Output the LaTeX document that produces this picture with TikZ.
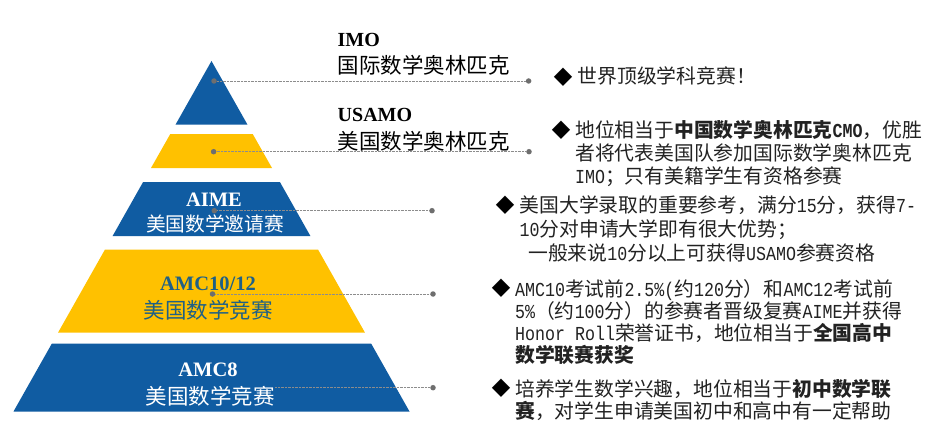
\documentclass[tikz,border=0pt]{standalone}
\usepackage{fontspec}
\setmainfont{Liberation Serif}
\newfontfamily\cjk{Noto Sans CJK SC}
\newfontfamily\lmono[FakeStretch=0.84]{Liberation Mono}
\newfontfamily\symf{DejaVu Sans}
\definecolor{pblue}{RGB}{16,92,162}
\definecolor{pyellow}{RGB}{255,193,0}
\definecolor{pteal}{RGB}{31,96,134}
\definecolor{desccol}{RGB}{34,34,34}
\definecolor{dotgray}{RGB}{110,110,110}
\definecolor{linegray}{RGB}{140,140,140}
\tikzset{
  dotpt/.style={circle, fill=dotgray, inner sep=0pt, minimum size=5.5pt},
  leader/.style={draw=linegray, line width=0.7pt, dash pattern=on 0.7pt off 0.7pt},
  ttl/.style={anchor=west, inner sep=0pt, font=\fontsize{20}{24}\selectfont\bfseries},
  ttlcn/.style={anchor=west, inner sep=0pt, font=\cjk\fontsize{21.5}{24}\selectfont},
  pyen/.style={inner sep=0pt, font=\fontsize{20.5}{24}\selectfont\bfseries},
  pycn/.style={inner sep=0pt, font=\cjk\fontsize{21.5}{24}\selectfont},
  desc/.style={anchor=base west, inner sep=0pt, text=desccol, font=\cjk\fontsize{19.8}{22}\selectfont},
  bul/.style={inner sep=0pt, font=\symf\fontsize{24}{26}\selectfont},
}
\begin{document}
\begin{tikzpicture}[x=1pt,y=-1pt]
\useasboundingbox (0,0) rectangle (928,441);
\fill[white] (0,0) rectangle (928,441);

% pyramid bands
\fill[pblue]   (211.5,61) -- (247.4,124.5) -- (175.6,124.5) -- cycle;
\fill[pyellow] (170.3,134) -- (252.7,134) -- (272,168) -- (151,168) -- cycle;
\fill[pblue]   (143.1,182) -- (279.9,182) -- (310.4,236) -- (112.6,236) -- cycle;
\fill[pyellow] (105,249.5) -- (318,249.5) -- (364.9,332.5) -- (58.1,332.5) -- cycle;
\fill[pblue]   (51.9,343.5) -- (371.1,343.5) -- (409.5,411.5) -- (13.5,411.5) -- cycle;

% pyramid texts
\node[pyen, text=white] (aimeEn) at (214,200) {AIME};
\node[pycn, text=white, font=\cjk\fontsize{19.7}{22}\selectfont] (aimeCn) at (215,223.5) {美国数学邀请赛};
\node[pyen, text=pteal] (amcEn) at (208,283.3) {AMC10/12};
\node[pycn, text=pteal] (amcCn) at (208,310) {美国数学竞赛};
\node[pyen, text=white] (amc8En) at (208,370) {AMC8};
\node[pycn, text=white] (amc8Cn) at (210,396.7) {美国数学竞赛};

% top titles
\node[ttl] (imoEn) at (337.5,40) {IMO};
\node[ttlcn] (imoCn) at (337.5,65.5) {国际数学奥林匹克};
\node[ttl] (usaEn) at (337.5,115) {USAMO};
\node[ttlcn] (usaCn) at (337.5,141.7) {美国数学奥林匹克};

% leaders
\node[dotpt] (d1a) at (214,81) {};
\node[dotpt] (d1b) at (528.6,81) {};
\node[dotpt] (d2a) at (213.6,151.7) {};
\node[dotpt] (d2b) at (529,151.7) {};
\node[dotpt] (d3a) at (214.3,210.7) {};
\node[dotpt] (d3b) at (432,210.7) {};
\node[dotpt] (d4a) at (212.5,294) {};
\node[dotpt] (d4b) at (433,294) {};
\coordinate (d5a) at (275,387.7);
\node[dotpt] (d5b) at (433,387.7) {};
\draw[leader] (d1a) -- (d1b);
\draw[leader] (d2a) -- (d2b);
\draw[leader] (d3a) -- (d3b);
\draw[leader] (d4a) -- (d4b);
\draw[leader] (d5a) -- (d5b);

% bullets
\node[bul] (m1) at (563,77) {◆};
\node[bul] (m2) at (561,130) {◆};
\node[bul] (m3) at (505,205) {◆};
\node[bul] (m4) at (501,288.3) {◆};
\node[bul] (m5) at (501,388.3) {◆};

% descriptions
\node[desc] (t1) at (577.5,84) {世界顶级学科竞赛！};

\node[desc] (t2a) at (575,137.5) {地位相当于{\bfseries 中国数学奥林匹克{\lmono CMO}}，优胜};
\node[desc] (t2b) at (575,160.5) {者将代表美国队参加国际数学奥林匹克};
\node[desc] (t2c) at (575,183.5) {{\lmono IMO}；只有美籍学生有资格参赛};

\node[desc] (t3a) at (519.5,212.5) {美国大学录取的重要参考，满分{\lmono 15}分，获得{\lmono 7-}};
\node[desc] (t3b) at (519.5,236.5) {{\lmono 10}分对申请大学即有很大优势；};
\node[desc] (t3c) at (528,260.5) {一般来说{\lmono 10}分以上可获得{\lmono USAMO}参赛资格};

\node[desc] (t4a) at (515,296) {{\lmono AMC10}考试前{\lmono 2.5\%(}约{\lmono 120}分）和{\lmono AMC12}考试前};
\node[desc] (t4b) at (515,318) {{\lmono 5\%}（约{\lmono 100}分）的参赛者晋级复赛{\lmono AIME}并获得};
\node[desc] (t4c) at (515,340.5) {{\lmono Honor Roll}荣誉证书，地位相当于{\bfseries 全国高中}};
\node[desc] (t4d) at (515,362.5) {{\bfseries 数学联赛获奖}};

\node[desc] (t5a) at (515,396) {培养学生数学兴趣，地位相当于{\bfseries 初中数学联}};
\node[desc] (t5b) at (515,418.5) {{\bfseries 赛}，对学生申请美国初中和高中有一定帮助};
\end{tikzpicture}
\end{document}
